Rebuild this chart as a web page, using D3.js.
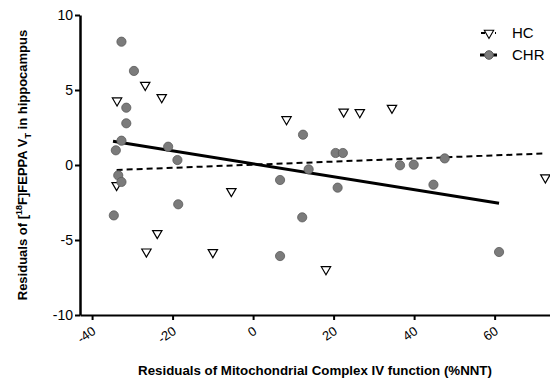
<!DOCTYPE html>
<html><head><meta charset="utf-8">
<script src="https://cdn.jsdelivr.net/npm/d3@7"></script>
<style>body{margin:0;background:#fff}svg{display:block}text{font-family:"Liberation Sans",Arial,sans-serif}</style>
</head><body><svg id="c" width="550" height="380"></svg>
<script>
const hcX = [-33.8,-26.8,-22.7,-33.9,-5.4,-23.8,-26.5,-10.0,8.3,22.5,26.5,34.5,72.6,18.1];
const hcY = [4.29,5.33,4.51,-1.35,-1.75,-4.55,-5.78,-5.82,3.04,3.55,3.51,3.8,-0.84,-6.96];
const chrX = [-32.7,-29.6,-31.5,-31.5,-32.7,-34.1,-21.1,-18.8,-33.5,-32.7,6.7,-18.6,-34.6,6.7,12.4,20.5,22.3,13.8,36.5,39.9,47.6,21.0,44.8,12.2,61.1];
const chrY = [8.22,6.27,3.82,2.78,1.62,0.98,1.22,0.33,-0.69,-1.13,-1.0,-2.62,-3.36,-6.07,2.02,0.8,0.8,-0.29,-0.02,0.02,0.44,-1.51,-1.31,-3.49,-5.8];
const hcFitX = [-33.9, 72.6], hcFitY = [-0.33, 0.77];
const chrFitX = [-34.8, 61.1], chrFitY = [1.58, -2.55];
const xTicks = [-40,-20,0,20,40,60];
const yTicks = [-10,-5,0,5,10];
const seriesNames = ["HC","CHR"];

const svg = d3.select("#c");
const x = d3.scaleLinear().domain([-43, 74.5]).range([80, 553]);
const y = d3.scaleLinear().domain([-10, 10]).range([315, 15]);

// axes
const gx = svg.append("g").attr("transform","translate(0,315)")
  .call(d3.axisBottom(x).tickValues(xTicks).tickSize(5).tickSizeOuter(0).tickFormat(d=>String(d)));
gx.select(".domain").attr("stroke","#000").attr("stroke-width",2);
gx.selectAll(".tick line").attr("stroke","#000").attr("stroke-width",2);
gx.selectAll(".tick text").attr("font-size",13).attr("fill","#000")
  .attr("text-anchor","end").attr("dy",0).attr("y",0)
  .attr("transform","translate(4,18) rotate(-35)");

const gy = svg.append("g").attr("transform","translate(80,0)")
  .call(d3.axisLeft(y).tickValues(yTicks).tickSize(5).tickSizeOuter(0).tickFormat(d=>String(d)));
gy.select(".domain").attr("stroke","#000").attr("stroke-width",2.5);
gy.selectAll(".tick line").attr("stroke","#000").attr("stroke-width",2);
gy.selectAll(".tick text").attr("font-size",14).attr("fill","#000").attr("x",-7);

// fit lines
const line = d3.line().x(d=>x(d[0])).y(d=>y(d[1]));
svg.append("path").datum(d3.zip(hcFitX,hcFitY)).attr("d",line)
  .attr("fill","none").attr("stroke","#000").attr("stroke-width",2).attr("stroke-dasharray","6,4");
svg.append("path").datum(d3.zip(chrFitX,chrFitY)).attr("d",line)
  .attr("fill","none").attr("stroke","#000").attr("stroke-width",3);

// points
const tri = d3.symbol().type(d3.symbolTriangle).size(38);
svg.append("g").selectAll("path").data(d3.zip(hcX,hcY)).join("path")
  .attr("d",tri).attr("transform",d=>`translate(${x(d[0])},${y(d[1])}) rotate(180)`)
  .attr("fill","#fff").attr("stroke","#000").attr("stroke-width",1.2);
svg.append("g").selectAll("circle").data(d3.zip(chrX,chrY)).join("circle")
  .attr("cx",d=>x(d[0])).attr("cy",d=>y(d[1])).attr("r",4.6)
  .attr("fill","#7b7b7b").attr("stroke","#5a5a5a").attr("stroke-width",0.8);

// legend
const lg = svg.append("g");
lg.append("line").attr("x1",481).attr("x2",496).attr("y1",33).attr("y2",33)
  .attr("stroke","#000").attr("stroke-width",2).attr("stroke-dasharray","4,3");
lg.append("path").attr("d",tri).attr("transform","translate(489,33) rotate(180)")
  .attr("fill","#fff").attr("stroke","#000").attr("stroke-width",1.1);
lg.append("line").attr("x1",480).attr("x2",497).attr("y1",55).attr("y2",55)
  .attr("stroke","#000").attr("stroke-width",3);
lg.append("circle").attr("cx",489).attr("cy",55).attr("r",4.3).attr("fill","#7b7b7b").attr("stroke","#5a5a5a");
lg.selectAll("text.l").data(seriesNames).join("text").attr("class","l")
  .attr("x",512).attr("y",(d,i)=>33+i*22).attr("dy","0.35em").attr("font-size",15).text(d=>d);

// titles
svg.append("text").attr("x",315).attr("y",375).attr("text-anchor","middle")
  .attr("font-size",13.3).attr("font-weight","bold").text("Residuals of Mitochondrial Complex IV function (%NNT)");
const yt = svg.append("text").attr("transform","translate(27,165) rotate(-90)").attr("text-anchor","middle")
  .attr("font-size",13).attr("font-weight","bold");
yt.append("tspan").text("Residuals of [");
yt.append("tspan").attr("font-size",9).attr("dy",-5).text("18");
yt.append("tspan").attr("dy",5).text("F]FEPPA V");
yt.append("tspan").attr("font-size",9).attr("dy",4).text("T");
yt.append("tspan").attr("dy",-4).text(" in hippocampus");
</script></body></html>
